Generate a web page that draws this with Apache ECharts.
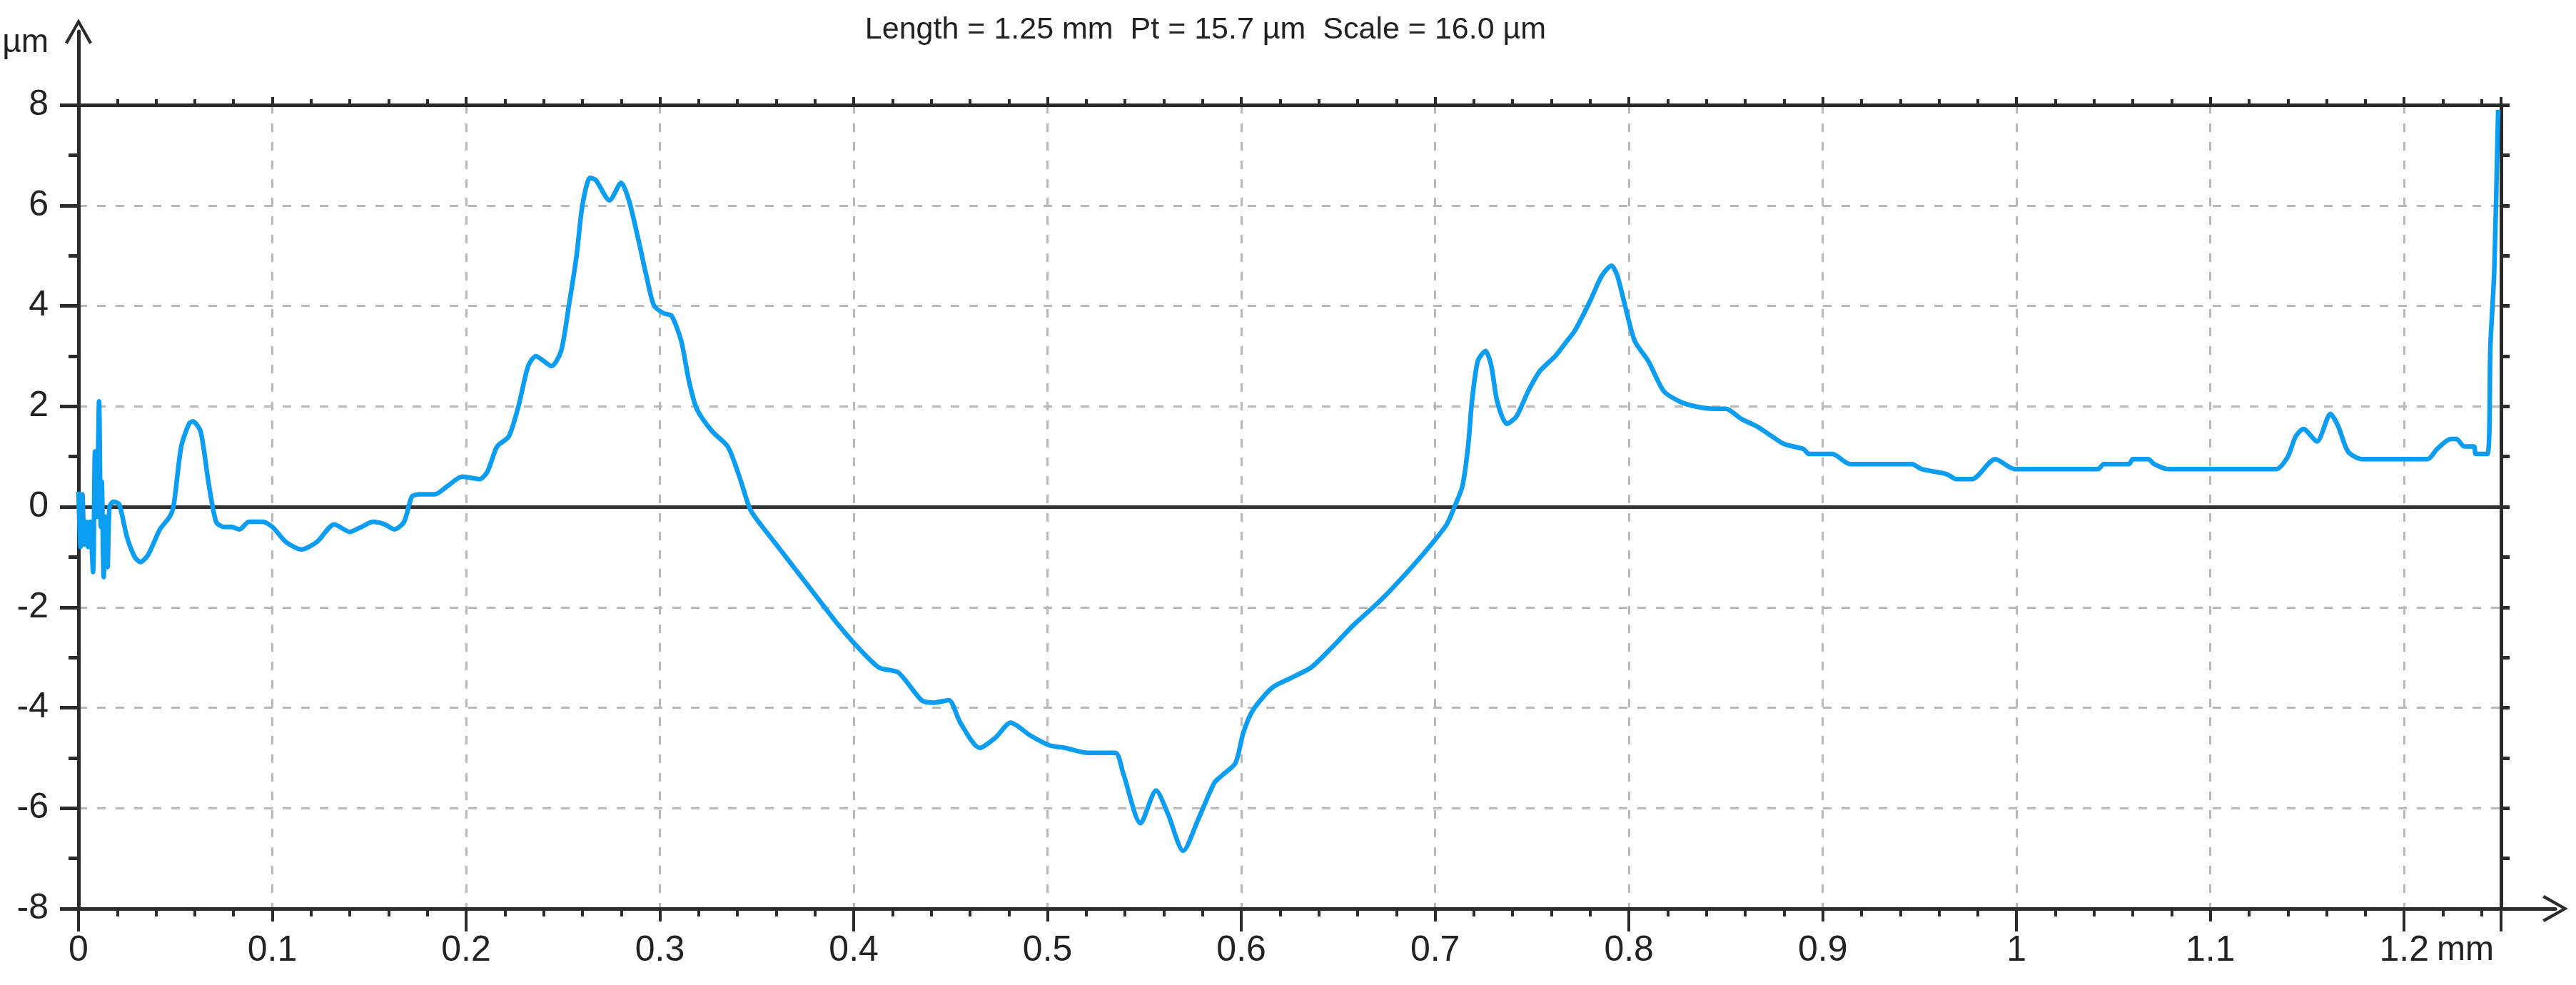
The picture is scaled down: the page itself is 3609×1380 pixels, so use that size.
<!DOCTYPE html>
<html>
<head>
<meta charset="utf-8">
<title>Profile</title>
<script src="https://cdn.jsdelivr.net/npm/echarts@6/dist/echarts.min.js"></script>
<style>
  html, body { margin: 0; padding: 0; background: #fff; }
  #chart { width: 3609px; height: 1380px; }
</style>
</head>
<body>
<div id="chart"></div>
<script>
// profile position (mm)
const posMm = [
  0.000, 0.001, 0.002, 0.003, 0.004, 0.005, 0.006, 0.0075, 0.0085, 0.0095,
  0.0106, 0.0115, 0.012, 0.013, 0.014, 0.015, 0.016, 0.018, 0.021, 0.025,
  0.029, 0.032, 0.036, 0.042, 0.047, 0.049, 0.053, 0.057, 0.059, 0.063,
  0.067, 0.071, 0.075, 0.079, 0.083, 0.088, 0.095, 0.100, 0.107, 0.115,
  0.123, 0.132, 0.140, 0.146, 0.152, 0.158, 0.163, 0.168, 0.172, 0.176,
  0.184, 0.190, 0.198, 0.207, 0.211, 0.216, 0.222, 0.227, 0.232, 0.236,
  0.244, 0.249, 0.253, 0.257, 0.260, 0.264, 0.267, 0.274, 0.280, 0.284,
  0.289, 0.293, 0.297, 0.302, 0.306, 0.311, 0.315, 0.319, 0.327, 0.335,
  0.341, 0.346, 0.349, 0.359, 0.369, 0.383, 0.391, 0.401, 0.413, 0.423,
  0.435, 0.441, 0.449, 0.455, 0.465, 0.473, 0.481, 0.491, 0.501, 0.509,
  0.521, 0.535, 0.539, 0.548, 0.556, 0.562, 0.570, 0.578, 0.586, 0.590,
  0.597, 0.601, 0.606, 0.616, 0.626, 0.636, 0.648, 0.658, 0.668, 0.676,
  0.688, 0.698, 0.706, 0.710, 0.714, 0.717, 0.719, 0.722, 0.726, 0.729,
  0.732, 0.737, 0.742, 0.748, 0.754, 0.762, 0.768, 0.772, 0.780, 0.786,
  0.791, 0.794, 0.798, 0.803, 0.810, 0.818, 0.826, 0.834, 0.844, 0.850,
  0.858, 0.866, 0.872, 0.880, 0.890, 0.893, 0.905, 0.914, 0.946, 0.951,
  0.964, 0.969, 0.977, 0.989, 0.999, 1.042, 1.045, 1.058, 1.060, 1.068,
  1.071, 1.078, 1.134, 1.140, 1.144, 1.148, 1.155, 1.162, 1.166, 1.171,
  1.178, 1.212, 1.217, 1.224, 1.227, 1.231, 1.236, 1.237, 1.243, 1.2445,
  1.2465, 1.2485
];
// profile height (µm)
const heightUm = [
  0.3, -0.8, 0.25, -0.75, -0.3, -0.8, -0.3, -1.3, 1.1, -0.2,
  2.1, -0.4, 0.5, -1.4, -0.2, -1.2, 0.0, 0.1, 0.05, -0.6,
  -1.0, -1.1, -0.95, -0.45, -0.2, 0.0, 1.2, 1.65, 1.7, 1.5,
  0.5, -0.3, -0.4, -0.4, -0.45, -0.3, -0.3, -0.4, -0.7, -0.85,
  -0.7, -0.35, -0.5, -0.4, -0.3, -0.35, -0.45, -0.3, 0.2, 0.25,
  0.25, 0.4, 0.6, 0.55, 0.7, 1.2, 1.4, 2.0, 2.8, 3.0,
  2.8, 3.1, 4.0, 5.0, 6.0, 6.55, 6.5, 6.1, 6.45, 6.1,
  5.3, 4.6, 4.0, 3.85, 3.8, 3.3, 2.5, 1.95, 1.5, 1.2,
  0.6, 0.0, -0.2, -0.7, -1.2, -1.9, -2.3, -2.75, -3.2, -3.3,
  -3.85, -3.9, -3.85, -4.3, -4.8, -4.6, -4.3, -4.55, -4.75, -4.8,
  -4.9, -4.9, -5.3, -6.3, -5.65, -6.1, -6.85, -6.2, -5.5, -5.35,
  -5.1, -4.5, -4.05, -3.6, -3.4, -3.2, -2.75, -2.35, -2.0, -1.7,
  -1.2, -0.75, -0.35, 0.0, 0.4, 1.2, 2.1, 2.9, 3.1, 2.8,
  2.1, 1.65, 1.8, 2.3, 2.7, 3.0, 3.3, 3.5, 4.1, 4.6,
  4.8, 4.6, 4.0, 3.3, 2.9, 2.3, 2.1, 2.0, 1.95, 1.95,
  1.75, 1.6, 1.45, 1.25, 1.15, 1.05, 1.05, 0.85, 0.85, 0.75,
  0.65, 0.55, 0.55, 0.95, 0.75, 0.75, 0.85, 0.85, 0.95, 0.95,
  0.85, 0.75, 0.75, 1.0, 1.4, 1.55, 1.3, 1.85, 1.6, 1.1,
  0.95, 0.95, 1.15, 1.35, 1.35, 1.2, 1.2, 1.05, 1.05, 3.2,
  4.7, 7.9
];
const titleText = 'Length = 1.25 mm  Pt = 15.7 µm  Scale = 16.0 µm';

const axisColor = '#2b2b2b';
const textFont = "'Liberation Sans', Arial, sans-serif";
const arrowPath = 'path://M50,0 L100,88 L90,94 L50,22 L10,94 L0,88 Z';

const chart = echarts.init(document.getElementById('chart'));

const option = {
  animation: false,
  backgroundColor: '#ffffff',
  title: {
    text: titleText,
    left: 1684,
    top: 16,
    textAlign: 'center',
    textStyle: { fontFamily: textFont, fontSize: 43, fontWeight: 'normal', color: '#222' }
  },
  grid: [
    { left: 110, right: 105, top: 147, bottom: 107 },
    // larger grid only for the arrowed axes
    { left: 110, right: 29, top: 44, bottom: 107 }
  ],
  xAxis: [
    {
      gridIndex: 0, type: 'value', position: 'bottom',
      min: 0, max: 1.25, interval: 0.1,
      name: 'mm', nameLocation: 'end', nameGap: -90,
      nameTextStyle: { fontFamily: textFont, fontSize: 48, color: '#222', align: 'left', verticalAlign: 'top', padding: [34, 0, 0, 0], lineHeight: 50 },
      axisLine: { onZero: false, lineStyle: { color: axisColor, width: 5 } },
      axisTick: { length: 18, lineStyle: { color: axisColor, width: 4 } },
      minorTick: { show: true, splitNumber: 5, length: 11, lineStyle: { color: axisColor, width: 4 } },
      splitLine: { show: true, lineStyle: { color: '#b8b8b8', width: 3, type: [12, 14] } },
      axisLabel: {
        margin: 34, fontFamily: textFont, fontSize: 50, lineHeight: 50, color: '#222',
        showMaxLabel: false,
        formatter: function (v) {
          if (Math.abs(v - 1.25) < 1e-9) return '';
          return String(Math.round(v * 10) / 10);
        }
      }
    },
    {
      // long ticks every 0.2 mm
      gridIndex: 0, type: 'value', position: 'bottom',
      min: 0, max: 1.25, interval: 0.2,
      axisLine: { show: false, onZero: false },
      axisTick: { length: 32, lineStyle: { color: axisColor, width: 4 } },
      axisLabel: { show: false },
      splitLine: { show: false }
    },
    {
      gridIndex: 0, type: 'value', position: 'top',
      min: 0, max: 1.25, interval: 0.1,
      axisLine: { onZero: false, lineStyle: { color: axisColor, width: 5 } },
      axisTick: { length: 11, lineStyle: { color: axisColor, width: 4 } },
      minorTick: { show: true, splitNumber: 5, length: 8, lineStyle: { color: axisColor, width: 4 } },
      axisLabel: { show: false },
      splitLine: { show: false }
    },
    {
      gridIndex: 1, type: 'value', position: 'bottom', min: 0, max: 1,
      axisLine: { onZero: false, symbol: ['none', arrowPath], symbolSize: [38, 46], lineStyle: { color: axisColor, width: 5 } },
      axisTick: { show: false },
      axisLabel: { show: false },
      splitLine: { show: false }
    }
  ],
  yAxis: [
    {
      gridIndex: 0, type: 'value', position: 'left',
      min: -8, max: 8, interval: 2,
      axisLine: { onZero: false, lineStyle: { color: axisColor, width: 5 } },
      axisTick: { length: 26, lineStyle: { color: axisColor, width: 5 } },
      minorTick: { show: true, splitNumber: 2, length: 14, lineStyle: { color: axisColor, width: 5 } },
      splitLine: { show: true, lineStyle: { color: '#b8b8b8', width: 3, type: [12, 14] } },
      axisLabel: { margin: 42, fontFamily: textFont, fontSize: 50, color: '#222' }
    },
    {
      gridIndex: 0, type: 'value', position: 'right',
      min: -8, max: 8, interval: 1,
      axisLine: { onZero: false, lineStyle: { color: axisColor, width: 5 } },
      axisTick: { length: 12, lineStyle: { color: axisColor, width: 5 } },
      axisLabel: { show: false },
      splitLine: { show: false }
    },
    {
      gridIndex: 1, type: 'value', position: 'left', min: 0, max: 1,
      name: 'µm', nameLocation: 'end', nameGap: -16,
      nameTextStyle: { fontFamily: textFont, fontSize: 46, color: '#222', align: 'right', verticalAlign: 'middle', padding: [0, 42, 0, 0] },
      axisLine: { onZero: false, symbol: ['none', arrowPath], symbolSize: [38, 46], lineStyle: { color: axisColor, width: 5 } },
      axisTick: { show: false },
      axisLabel: { show: false },
      splitLine: { show: false }
    }
  ],
  series: [
    {
      name: 'profile',
      type: 'line',
      xAxisIndex: 0,
      yAxisIndex: 0,
      showSymbol: false,
      symbol: 'none',
      smooth: 0.25,
      data: posMm.map(function (x, i) { return [x, heightUm[i]]; }),
      lineStyle: { color: '#0a9df2', width: 6.5 },
      z: 3,
      markLine: {
        silent: true,
        symbol: ['none', 'none'],
        label: { show: false },
        lineStyle: { color: '#333', width: 5, type: 'solid' },
        data: [{ yAxis: 0 }],
        z: 2
      }
    }
  ]
};

chart.setOption(option);
</script>
</body>
</html>
